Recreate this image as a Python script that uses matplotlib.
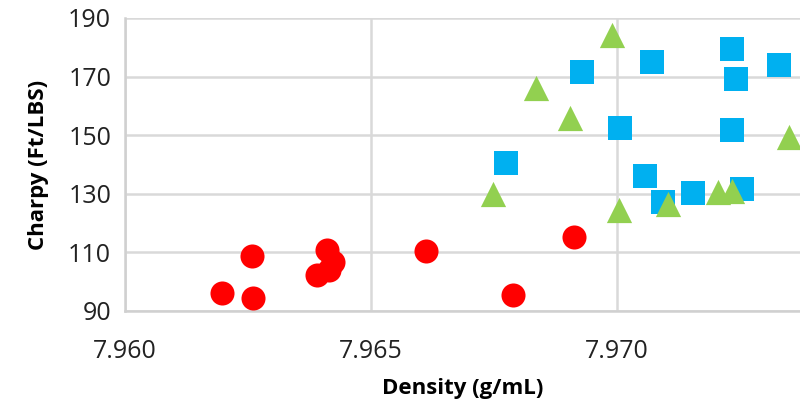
import matplotlib.pyplot as plt

# Density (g/mL) vs Charpy (Ft/LBS), three groups
red_x = [7.96197, 7.96258, 7.96260, 7.96390, 7.96410, 7.96423, 7.96415, 7.96612, 7.96789, 7.96913]
red_y = [96.1, 108.8, 94.4, 102.3, 110.8, 106.7, 104.0, 110.5, 95.5, 115.3]

blue_x = [7.96775, 7.96929, 7.97006, 7.97071, 7.97057, 7.97094, 7.97154, 7.97234, 7.97242, 7.97234, 7.97254, 7.97329]
blue_y = [140.5, 171.6, 152.5, 175.0, 136.1, 127.2, 130.3, 179.4, 169.2, 151.8, 131.6, 174.0]

green_x = [7.96990, 7.96835, 7.96904, 7.96748, 7.97004, 7.97104, 7.97205, 7.97234, 7.97350]
green_y = [184.2, 166.1, 155.9, 130.0, 124.5, 126.5, 130.6, 131.0, 149.4]

plt.rcParams['font.family'] = ['Open Sans', 'DejaVu Sans']

fig = plt.figure(figsize=(8, 4.11), dpi=100)
ax = fig.add_axes([125 / 800, 1 - 311 / 411, 675 / 800, 293 / 411])

ax.scatter(red_x, red_y, s=300, marker='o', color='#FF0000', linewidths=0, zorder=3, clip_on=False)
ax.scatter(blue_x, blue_y, s=300, marker='s', color='#00B0F0', linewidths=0, zorder=3, clip_on=False)
ax.scatter(green_x, green_y, s=330, marker='^', color='#92D050', linewidths=0, zorder=3, clip_on=False)

ax.set_xlim(7.960, 7.960 + 675 / 246 * 0.005)
ax.set_ylim(90, 190)
ax.set_xticks([7.960, 7.965, 7.970])
ax.set_xticklabels(['7.960', '7.965', '7.970'])
ax.set_yticks(range(90, 191, 20))

ax.grid(True, color='#d9d9d9', linewidth=1.8, zorder=0)
ax.set_axisbelow(True)
for s in ['top', 'right']:
    ax.spines[s].set_visible(False)
for s in ['left', 'bottom']:
    ax.spines[s].set_color('#d0d0d0')
    ax.spines[s].set_linewidth(1.8)

ax.tick_params(length=0, labelsize=18, colors='#222222')
ax.tick_params(axis='x', pad=20)
ax.tick_params(axis='y', pad=10)

ax.set_xlabel('Density (g/mL)', fontsize=16, fontweight='bold', labelpad=10)
ax.set_ylabel('Charpy (Ft/LBS)', fontsize=16, fontweight='bold', labelpad=14)

fig.savefig('out.png', dpi=100)
